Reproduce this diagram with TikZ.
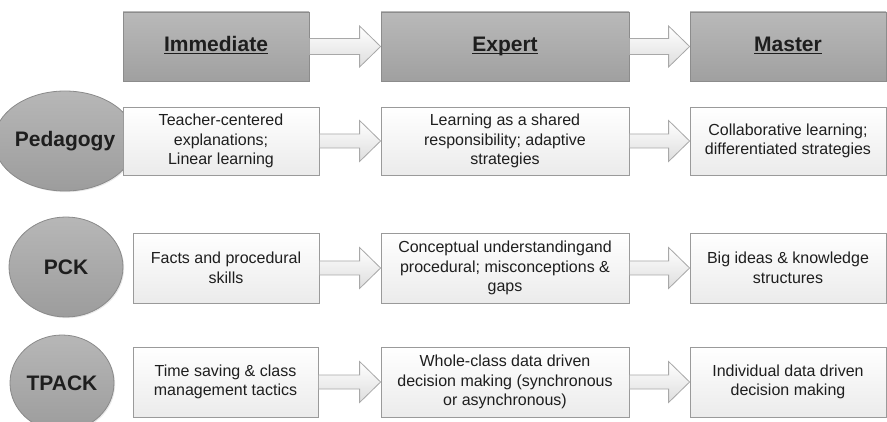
\documentclass[tikz,border=0pt]{standalone}
\usepackage{fontspec}
\setmainfont{Liberation Sans}
\usetikzlibrary{calc,shadows,shapes.geometric}

\definecolor{txt}{HTML}{1E1E1E}
\definecolor{hdtop}{HTML}{B9B9B9}
\definecolor{hdbot}{HTML}{A0A0A0}
\definecolor{hdline}{HTML}{8C8C8C}
\definecolor{cellbot}{HTML}{EBEBEB}
\definecolor{cellline}{HTML}{9A9A9A}
\definecolor{topicfill}{HTML}{AAAAAA}
\definecolor{topicline}{HTML}{8A8A8A}
\definecolor{arrline}{HTML}{A8A8A8}
\definecolor{arrfill}{HTML}{F1F1F1}

% underline set at a fixed distance below the baseline
\newcommand\stageul[1]{\underline{\smash{#1}}}

\tikzset{
  boxshadow/.style={drop shadow={opacity=0.18, shadow xshift=1.2pt, shadow yshift=-1.2pt}},
  head/.style={draw=hdline, line width=0.8pt, top color=hdtop, bottom color=hdbot,
    minimum height=69pt, inner sep=0pt, text=txt, boxshadow,
    text height=15pt, text depth=5pt,
    font=\fontsize{21}{24}\selectfont\bfseries},
  cell/.style={draw=cellline, line width=0.8pt, top color=white, bottom color=cellbot,
    minimum height=69pt, inner sep=0pt, align=center, text=txt, boxshadow,
    font=\fontsize{16}{19.5}\selectfont},
  topic/.style={ellipse, draw=topicline, line width=0.8pt, top color=topicfill!85!white,
    bottom color=topicfill!92!black, inner sep=0pt, text=txt, boxshadow,
    font=\fontsize{21}{24}\selectfont\bfseries},
  arrowbody/.style={draw=arrline, line width=0.8pt, top color=white, bottom color=arrfill!92!black, line join=miter},
}

% block arrow between two named boxes: #3 half shaft, #4 half head
\newcommand\flowarrow[4]{%
  \draw[arrowbody] ($(#1.east)+(0,#3)$) -- ($(#2.west)+(-21,#3)$)
    -- ($(#2.west)+(-21,#4)$) -- (#2.west) -- ($(#2.west)+(-21,-#4)$)
    -- ($(#2.west)+(-21,-#3)$) -- ($(#1.east)+(0,-#3)$) -- cycle;}

\begin{document}
\begin{tikzpicture}[x=1pt, y=-1pt]
  \useasboundingbox (0,0) rectangle (887,422);

  % stage headers
  \node[head, minimum width=186pt] (h1) at (216,46.5) {\stageul{Immediate}};
  \node[head, minimum width=248pt] (h2) at (505,46.5) {\stageul{Expert}};
  \node[head, minimum width=196pt] (h3) at (788,46.5) {\stageul{Master}};

  % Pedagogy row
  \node[topic, minimum width=110pt, minimum height=100pt] (t1) at (65,141) {Pedagogy};
  \node[cell, minimum width=196pt, minimum height=68pt] (p1) at (221,141)
    {Teacher-centered\\explanations;\\Linear learning};
  \node[cell, minimum width=248pt, minimum height=68pt] (p2) at (505,141)
    {Learning as a shared\\responsibility; adaptive\\strategies};
  \node[cell, minimum width=196pt, minimum height=68pt] (p3) at (788,141)
    {Collaborative learning;\\differentiated strategies};

  % PCK row
  \node[topic, minimum width=114pt, minimum height=100pt] (t2) at (66,267) {PCK};
  \node[cell, minimum width=186pt, minimum height=70pt] (k1) at (226,268)
    {Facts and procedural\\skills};
  \node[cell, minimum width=248pt, minimum height=70pt] (k2) at (505,268)
    {Conceptual understandingand\\procedural; misconceptions \&\\gaps};
  \node[cell, minimum width=196pt, minimum height=70pt] (k3) at (788,268)
    {Big ideas \& knowledge\\structures};

  % TPACK row
  \node[topic, minimum width=104pt, minimum height=96pt] (t3) at (62,383) {TPACK};
  \node[cell, minimum width=185pt, minimum height=70pt] (c1) at (225.5,382)
    {Time saving \& class\\management tactics};
  \node[cell, minimum width=248pt, minimum height=70pt] (c2) at (505,382)
    {Whole-class data driven\\decision making (synchronous\\or asynchronous)};
  \node[cell, minimum width=196pt, minimum height=70pt] (c3) at (788,382)
    {Individual data driven\\decision making};

  % progression arrows
  \flowarrow{h1}{h2}{8}{20.5}
  \flowarrow{h2}{h3}{8}{20.5}
  \flowarrow{p1}{p2}{7}{20.5}
  \flowarrow{p2}{p3}{7}{20.5}
  \flowarrow{k1}{k2}{7}{20.5}
  \flowarrow{k2}{k3}{7}{20.5}
  \flowarrow{c1}{c2}{7}{20.5}
  \flowarrow{c2}{c3}{7}{20.5}
\end{tikzpicture}
\end{document}
